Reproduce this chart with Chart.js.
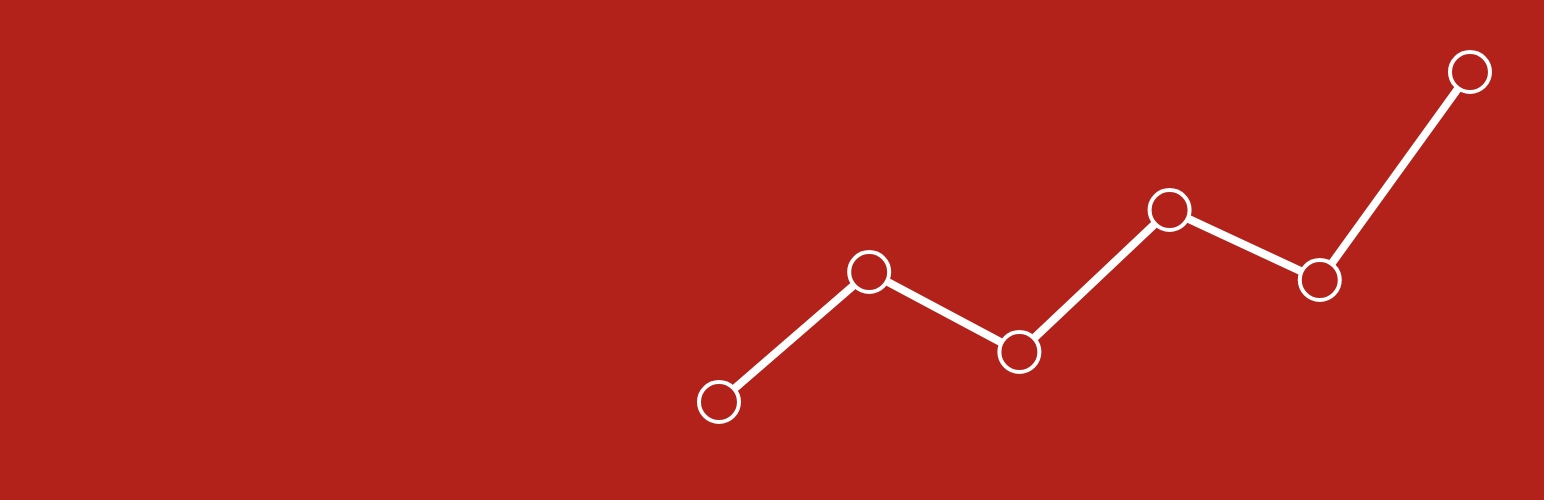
<!DOCTYPE html>
<html>
<head>
<meta charset="utf-8">
<script src="https://cdn.jsdelivr.net/npm/chart.js@4/dist/chart.umd.min.js"></script>
<style>
  html, body { margin: 0; padding: 0; background: #b2221a; }
  #wrap { width: 1544px; height: 500px; }
</style>
</head>
<body>
<div id="wrap"><canvas id="trendChart"></canvas></div>
<script>
// chart values
const steps = [0, 1, 2, 3, 4, 5];
const values = [98, 228, 148, 290, 220, 428];

// axis ranges: left half of the banner stays empty
const xMin = -4.627;
const xMax = 5.333;
const yMin = 24;
const yMax = 476;

const bg = '#b2221a';

const ctx = document.getElementById('trendChart').getContext('2d');
new Chart(ctx, {
    type: 'line',
    data: {
        datasets: [{
            data: steps.map((s, i) => ({ x: s, y: values[i] })),
            borderColor: '#ffffff',
            borderWidth: 8,
            pointRadius: 20,
            pointBorderWidth: 4,
            pointBorderColor: '#ffffff',
            pointBackgroundColor: bg,
            tension: 0,
            fill: false
        }]
    },
    options: {
        responsive: true,
        maintainAspectRatio: false,
        animation: false,
        layout: { padding: 0 },
        plugins: { legend: { display: false }, tooltip: { enabled: false } },
        scales: {
            x: { type: 'linear', min: xMin, max: xMax, display: false },
            y: { min: yMin, max: yMax, display: false }
        }
    }
});
</script>
</body>
</html>
